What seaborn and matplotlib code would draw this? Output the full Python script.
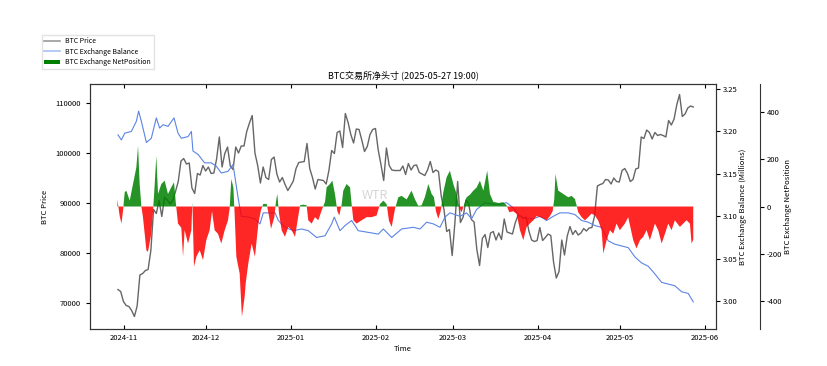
import numpy as np
import pandas as pd
import matplotlib
matplotlib.use("Agg")
import matplotlib.pyplot as plt
import matplotlib.dates as mdates
from matplotlib.lines import Line2D
from matplotlib.patches import Patch
import seaborn as sns

# 价格：每日 19:00
price_vals = [
    72700, 72300, 70300,
    69500, 69300, 68500, 67300, 69400, 75600, 75900, 76500, 76700, 80500,
    88700, 87900, 90500, 87300, 91100, 90600, 89800, 90500, 92300, 94300,
    98400, 98900, 97800, 98000, 93000, 91900, 95900, 95600, 97500, 96400,
    97200, 95900, 96000, 98800, 103200, 97200, 99900, 101200, 97400, 96700,
    101200, 100000, 101400, 101400, 104300, 106000, 107500, 100000, 97500, 94000,
    97200, 95100, 94700, 98700, 99200, 95800, 94200, 95100, 93700, 92500, 93400,
    94400, 96900, 98100, 98200, 98300, 101900, 96900, 95100, 92800, 94700,
    94600, 94500, 93800, 96500, 100500, 99900, 104100, 104400, 101100, 107900,
    106100, 103700, 102000, 104800, 104700, 102600, 100300, 101300, 103700, 104700, 104900,
    100600, 97700, 94500, 101000, 97500, 96600, 96500, 96500, 96500, 97400,
    95700, 97900, 96600, 97500, 97600, 96100, 95800, 95500, 96600, 98300,
    96100, 96600, 96300, 91400, 88700, 84300, 84700, 79500,
    86100, 94300, 86100, 87200, 90600, 89900, 86700, 86200, 80700, 77500,
    82900, 83700, 81100, 84000, 84300, 82600, 84000, 82700, 86800, 84200,
    84000, 83800, 86000, 87500, 87400, 86900, 87200, 84400, 82600, 82300, 82500,
    85100, 82500, 83100, 83800, 83500, 78200, 75000, 76300, 82600, 79600,
    83400, 85300, 83700, 84500, 83600, 84000, 84900, 84400, 85000, 85100,
    87500, 93400, 93700, 93900, 94700, 94600, 93800, 95000, 94300, 94200,
    96500, 96900, 95900, 94300, 94700, 96800, 97000, 103200, 102900, 104600,
    104100, 102800, 104100, 103500, 103700, 103500, 103200, 106500, 105600, 106800,
    109700, 111700, 107300, 107800, 109000, 109400, 109200,
]
price_times = pd.date_range("2024-10-29 19:00", "2025-05-27 19:00", freq="D")

# 交易所余额（百万 BTC）
bal_times = [
    "2024-10-29 19:00", "2024-10-31 01:00", "2024-11-01 06:00", "2024-11-03 16:00",
    "2024-11-05 12:00", "2024-11-06 08:00", "2024-11-07 08:00", "2024-11-09 04:00",
    "2024-11-10 23:00", "2024-11-12 19:00", "2024-11-14 00:00", "2024-11-15 06:00",
    "2024-11-17 01:00", "2024-11-19 06:00", "2024-11-20 17:00", "2024-11-21 22:00",
    "2024-11-24 09:00", "2024-11-25 14:00", "2024-11-26 04:00", "2024-11-28 00:00",
    "2024-11-30 10:00", "2024-12-02 21:00", "2024-12-04 17:00", "2024-12-06 12:00",
    "2024-12-08 23:00", "2024-12-10 19:00", "2024-12-11 09:00", "2024-12-12 15:00",
    "2024-12-13 20:00", "2024-12-16 06:00", "2024-12-18 19:00", "2024-12-20 15:00",
    "2024-12-21 20:00", "2024-12-26 03:00", "2024-12-27 08:00", "2024-12-29 18:00",
    "2025-01-01 19:00", "2025-01-04 20:00", "2025-01-07 06:00", "2025-01-10 07:00",
    "2025-01-13 09:00", "2025-01-15 19:00", "2025-01-16 18:00", "2025-01-18 20:00",
    "2025-01-20 16:00", "2025-01-23 02:00", "2025-01-25 12:00", "2025-01-29 04:00",
    "2025-02-01 20:00", "2025-02-03 16:00", "2025-02-06 17:00", "2025-02-10 08:00",
    "2025-02-14 14:00", "2025-02-17 01:00", "2025-02-19 11:00", "2025-02-21 22:00",
    "2025-02-24 08:00", "2025-02-26 04:00", "2025-02-27 23:00", "2025-03-01 19:00",
    "2025-03-03 15:00", "2025-03-06 01:00", "2025-03-07 21:00", "2025-03-09 17:00",
    "2025-03-12 18:00", "2025-03-15 19:00", "2025-03-18 06:00", "2025-03-20 16:00",
    "2025-03-23 02:00", "2025-03-25 13:00", "2025-03-27 23:00", "2025-03-30 10:00",
    "2025-04-01 20:00", "2025-04-04 06:00", "2025-04-06 17:00", "2025-04-09 03:00",
    "2025-04-12 04:00", "2025-04-14 14:00", "2025-04-17 01:00", "2025-04-19 11:00",
    "2025-04-21 22:00", "2025-04-24 08:00", "2025-04-26 18:00", "2025-04-29 05:00",
    "2025-05-01 15:00", "2025-05-04 01:00", "2025-05-06 12:00", "2025-05-08 22:00",
    "2025-05-11 09:00", "2025-05-13 19:00", "2025-05-16 06:00", "2025-05-18 16:00",
    "2025-05-21 02:00", "2025-05-23 13:00", "2025-05-25 23:00", "2025-05-27 19:00",
]
bal_vals = [
    3.196, 3.190, 3.198, 3.200,
    3.212, 3.224, 3.212, 3.187,
    3.192, 3.216, 3.204, 3.208,
    3.206, 3.216, 3.198, 3.192,
    3.194, 3.200, 3.177, 3.173,
    3.163, 3.163, 3.159, 3.151,
    3.153, 3.161, 3.149, 3.122,
    3.100, 3.099, 3.097, 3.091,
    3.104, 3.104, 3.095, 3.087,
    3.083, 3.085, 3.083, 3.075,
    3.077, 3.091, 3.099, 3.083,
    3.089, 3.095, 3.083, 3.081,
    3.079, 3.085, 3.075, 3.085,
    3.087, 3.085, 3.093, 3.091,
    3.087, 3.099, 3.104, 3.102,
    3.100, 3.104, 3.097, 3.108,
    3.116, 3.114, 3.114, 3.116,
    3.110, 3.100, 3.097, 3.097,
    3.100, 3.095, 3.100, 3.104,
    3.104, 3.102, 3.095, 3.093,
    3.089, 3.087, 3.071, 3.067,
    3.065, 3.063, 3.052, 3.045,
    3.041, 3.032, 3.022, 3.020,
    3.018, 3.011, 3.009, 2.999,
]

# 交易所净头寸
net_times = [
    "2024-10-29 14:00", "2024-10-30 10:00", "2024-10-31 01:00", "2024-10-31 15:00",
    "2024-11-01 06:00", "2024-11-01 20:00", "2024-11-03 02:00", "2024-11-04 07:00",
    "2024-11-05 12:00", "2024-11-06 03:00", "2024-11-06 17:00", "2024-11-07 08:00",
    "2024-11-07 22:00", "2024-11-09 04:00", "2024-11-09 18:00", "2024-11-10 23:00",
    "2024-11-11 14:00", "2024-11-12 05:00", "2024-11-12 19:00", "2024-11-13 10:00",
    "2024-11-14 15:00", "2024-11-15 20:00", "2024-11-17 01:00", "2024-11-18 06:00",
    "2024-11-19 06:00", "2024-11-19 21:00", "2024-11-20 17:00", "2024-11-21 22:00",
    "2024-11-22 13:00", "2024-11-23 03:00", "2024-11-24 09:00", "2024-11-25 14:00",
    "2024-11-25 23:00", "2024-11-26 13:00", "2024-11-27 10:00", "2024-11-28 15:00",
    "2024-11-29 20:00", "2024-12-01 01:00", "2024-12-02 06:00", "2024-12-03 03:00",
    "2024-12-04 02:00", "2024-12-05 07:00", "2024-12-06 12:00", "2024-12-07 18:00",
    "2024-12-08 23:00", "2024-12-09 13:00", "2024-12-10 04:00", "2024-12-10 22:00",
    "2024-12-11 09:00", "2024-12-12 00:00", "2024-12-13 05:00", "2024-12-14 01:00",
    "2024-12-15 01:00", "2024-12-15 10:00", "2024-12-16 09:00", "2024-12-17 14:00",
    "2024-12-18 19:00", "2024-12-20 01:00", "2024-12-21 00:00", "2024-12-21 20:00",
    "2024-12-23 02:00", "2024-12-23 22:00", "2024-12-24 16:00", "2024-12-25 21:00",
    "2024-12-26 11:00", "2024-12-26 23:00", "2024-12-27 14:00", "2024-12-28 13:00",
    "2024-12-29 18:00", "2024-12-30 23:00", "2025-01-01 05:00", "2025-01-02 10:00",
    "2025-01-03 09:00", "2025-01-04 06:00", "2025-01-05 11:00", "2025-01-06 16:00",
    "2025-01-07 06:00", "2025-01-08 12:00", "2025-01-09 17:00", "2025-01-10 22:00",
    "2025-01-12 03:00", "2025-01-13 09:00", "2025-01-13 23:00", "2025-01-15 04:00",
    "2025-01-16 01:00", "2025-01-17 00:00", "2025-01-17 21:00", "2025-01-18 14:00",
    "2025-01-19 11:00", "2025-01-20 01:00", "2025-01-21 06:00", "2025-01-22 12:00",
    "2025-01-23 02:00", "2025-01-23 17:00", "2025-01-24 22:00", "2025-01-26 18:00",
    "2025-01-28 13:00", "2025-01-30 09:00", "2025-02-01 05:00", "2025-02-02 10:00",
    "2025-02-03 16:00", "2025-02-04 21:00", "2025-02-05 17:00", "2025-02-06 17:00",
    "2025-02-07 22:00", "2025-02-09 03:00", "2025-02-10 08:00", "2025-02-12 04:00",
    "2025-02-13 23:00", "2025-02-15 05:00", "2025-02-16 10:00", "2025-02-17 15:00",
    "2025-02-18 20:00", "2025-02-20 02:00", "2025-02-21 07:00", "2025-02-22 03:00",
    "2025-02-22 21:00", "2025-02-23 17:00", "2025-02-24 14:00", "2025-02-25 13:00",
    "2025-02-26 18:00", "2025-02-27 23:00", "2025-03-01 05:00", "2025-03-02 10:00",
    "2025-03-03 09:00", "2025-03-04 06:00", "2025-03-05 05:00", "2025-03-06 01:00",
    "2025-03-07 07:00", "2025-03-08 12:00", "2025-03-09 17:00", "2025-03-10 22:00",
    "2025-03-12 04:00", "2025-03-13 14:00", "2025-03-14 14:00", "2025-03-15 19:00",
    "2025-03-17 15:00", "2025-03-19 11:00", "2025-03-20 16:00", "2025-03-21 15:00",
    "2025-03-23 02:00", "2025-03-24 07:00", "2025-03-25 13:00", "2025-03-26 18:00",
    "2025-03-27 23:00", "2025-03-29 04:00", "2025-03-30 10:00", "2025-03-31 15:00",
    "2025-04-01 20:00", "2025-04-03 01:00", "2025-04-04 06:00", "2025-04-05 12:00",
    "2025-04-06 11:00", "2025-04-07 01:00", "2025-04-07 12:00", "2025-04-08 12:00",
    "2025-04-10 08:00", "2025-04-12 04:00", "2025-04-13 09:00", "2025-04-14 14:00",
    "2025-04-15 05:00", "2025-04-15 19:00", "2025-04-17 01:00", "2025-04-18 06:00",
    "2025-04-19 11:00", "2025-04-20 16:00", "2025-04-21 22:00", "2025-04-23 03:00",
    "2025-04-24 08:00", "2025-04-24 23:00", "2025-04-26 04:00", "2025-04-27 09:00",
    "2025-04-28 14:00", "2025-04-29 19:00", "2025-05-01 00:00", "2025-05-02 20:00",
    "2025-05-04 01:00", "2025-05-05 21:00", "2025-05-07 02:00", "2025-05-08 08:00",
    "2025-05-09 13:00", "2025-05-10 18:00", "2025-05-11 23:00", "2025-05-13 19:00",
    "2025-05-15 00:00", "2025-05-16 06:00", "2025-05-17 11:00", "2025-05-18 16:00",
    "2025-05-19 21:00", "2025-05-21 02:00", "2025-05-22 22:00", "2025-05-24 03:00",
    "2025-05-25 08:00", "2025-05-26 14:00", "2025-05-27 04:00", "2025-05-27 19:00",
]
net_vals = [
    30, -40, -72, -20,
    60, 67, 25, 95,
    165, 256, 95, 0,
    -45, -185, -191, -115,
    -20, 95, 214, 53,
    95, 109, 53, 81,
    102, 20, -72, -90,
    -212, -100, -156, -100,
    20, -254, -212, -184,
    -226, -142, -100, -20,
    -100, -115, -156, -100,
    -58, -10, 116, 80,
    -30, -212, -282, -465,
    -380, -324, -240, -156,
    -212, -72, -15, 11,
    11, -40, -94, -45,
    20, 53, -30, -100,
    -128, -86, -100, -128,
    -58, 5, 8, 5,
    -58, -72, -45, -58,
    -17, 20, 81, 95,
    109, 53, -20, -38,
    10, 67, 95, 81,
    10, -58, -72, -58,
    -45, -45, -38, 10,
    25, 10, -60, -86,
    -10, 39, 45, 30,
    67, 30, 3, 5,
    40, 95, 53, 40,
    -20, -52, -20, 60,
    123, 151, 95, 53,
    -5, -24, 10, 39,
    50, 67, 80, 109,
    67, 151, 53, 20,
    15, 18, 5, -24,
    -20, -31, -100, -142,
    -86, -72, -58, -40,
    -45, -50, -58, -40,
    -20, 30, 137, 67,
    53, 39, 45, 32,
    5, -24, -45, -58,
    -45, -30, -38, -60,
    -100, -198, -142, -100,
    -115, -72, -100, -72,
    -45, -142, -177, -142,
    -128, -100, -142, -72,
    -100, -156, -115, -72,
    -100, -58, -86, -72,
    -58, -72, -156, -140,
]

price_df = pd.DataFrame({"time": price_times, "price": price_vals})
bal_df = pd.DataFrame({"time": pd.to_datetime(bal_times), "balance": bal_vals})
net_df = pd.DataFrame({"time": pd.to_datetime(net_times), "net": net_vals})

plt.rcParams["font.family"] = ["Noto Sans CJK SC", "DejaVu Sans"]
plt.rcParams["axes.unicode_minus"] = False

fig = plt.figure(figsize=(8.28, 3.66), dpi=100)
ax = fig.add_axes([0.1087, 0.101, 0.756, 0.6695])
ax2 = ax.twinx()
ax3 = ax.twinx()
ax3.spines["right"].set_position(("outward", 31.5))
for s in ["top", "left", "bottom"]:
    ax3.spines[s].set_visible(False)

price_c = "#666666"
bal_c = "#5b84e6"

sns.lineplot(data=price_df, x="time", y="price", ax=ax, color=price_c,
             linewidth=1.0, legend=False)
sns.lineplot(data=bal_df, x="time", y="balance", ax=ax2, color=bal_c,
             linewidth=0.8, legend=False)

t = mdates.date2num(net_df["time"])
v = net_df["net"].to_numpy()
ax3.fill_between(t, 0, v, where=v >= 0, interpolate=True, color="green",
                 alpha=0.85, linewidth=0)
ax3.fill_between(t, 0, v, where=v < 0, interpolate=True, color="red",
                 alpha=0.85, linewidth=0)

fs = 5.5
ax.set_xlim(mdates.datestr2num("2024-10-19 14:00"), mdates.datestr2num("2025-06-05 02:00"))
ax.set_ylim(64800, 113800)
ax2.set_ylim(2.967, 3.256)
ax3.set_ylim(-517, 517)

ax.xaxis.set_major_locator(mdates.MonthLocator())
ax.xaxis.set_major_formatter(mdates.DateFormatter("%Y-%m"))
ax.set_yticks([70000, 80000, 90000, 100000, 110000])
ax2.set_yticks([3.00, 3.05, 3.10, 3.15, 3.20, 3.25])
ax2.yaxis.set_major_formatter(matplotlib.ticker.FormatStrFormatter("%.2f"))
ax3.set_yticks([-400, -200, 0, 200, 400])

ax.tick_params(axis="x", direction="in", top=True, labelsize=fs, length=3)
ax.tick_params(axis="y", labelsize=fs, length=3)
ax2.tick_params(axis="y", labelsize=fs, length=3, pad=2)
ax3.tick_params(axis="y", labelsize=fs, length=3, pad=2)

ax.set_xlabel("Time", fontsize=fs, labelpad=2)
ax.set_ylabel("BTC Price", fontsize=fs, labelpad=5)
ax2.set_ylabel("BTC Exchange Balance (Millions)", fontsize=fs, labelpad=1)
ax3.set_ylabel("BTC Exchange NetPosition", fontsize=fs, labelpad=1)
ax.set_title("BTC交易所净头寸 (2025-05-27 19:00)", fontsize=6.5, pad=4)

for a in (ax, ax2, ax3):
    for s in a.spines.values():
        s.set_linewidth(0.8)
        s.set_color("#333333")

ax.text(0.455, 0.545, "WTR", transform=ax.transAxes, fontsize=9,
        color="#bbbbbb", alpha=0.6, ha="center", va="center", zorder=0)

handles = [
    Line2D([0], [0], color="#9a9a9a", linewidth=1.2),
    Line2D([0], [0], color="#a9bff5", linewidth=1.2),
    Patch(facecolor="green", edgecolor="none"),
]
labels = ["BTC Price", "BTC Exchange Balance", "BTC Exchange NetPosition"]
fig.legend(handles, labels, loc="upper left", bbox_to_anchor=(0.046, 0.915),
           fontsize=5, frameon=True, fancybox=False, edgecolor="#dddddd",
           handlelength=2.2, handleheight=0.6, borderpad=0.4, labelspacing=0.35)

fig.savefig("out.png", dpi=100)
